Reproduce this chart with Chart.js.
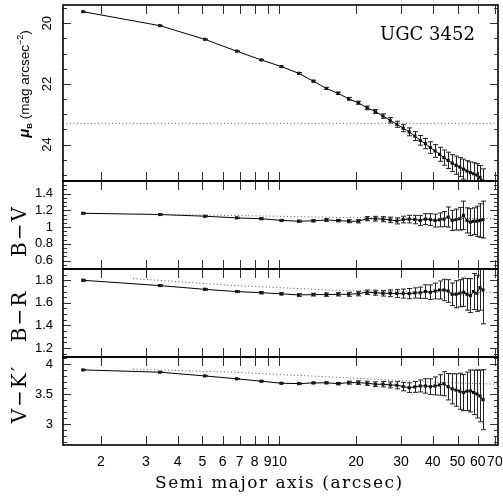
<!DOCTYPE html>
<html lang="en">
<head>
<meta charset="UTF-8">
<title>UGC 3452 profiles</title>
<script src="https://cdn.jsdelivr.net/npm/chart.js"></script>
<style>
  body { margin: 0; background: #fff; }
  #wrap { position: relative; width: 503px; height: 501px; overflow: hidden; }
  #wrap canvas { position: absolute; left: 0; top: 0; }
  .lbl { position: absolute; white-space: nowrap; color: #000; line-height: 1; }
  .rot { transform: translate(-50%, -50%) rotate(-90deg); }
  .serif { font-family: "DejaVu Serif", serif; }
  .sans { font-family: "Liberation Sans", Arial, sans-serif; }
</style>
</head>
<body>
<div id="wrap">
  <canvas id="pMu" width="503" height="501"></canvas>
  <canvas id="pBV" width="503" height="501"></canvas>
  <canvas id="pBR" width="503" height="501"></canvas>
  <canvas id="pVK" width="503" height="501"></canvas>

  <div class="lbl serif" style="left:380px; top:25px; font-size:18px;">UGC 3452</div>
  <div class="lbl sans rot" style="left:25px; top:84px; font-size:13.5px;"><b><i style="font-size:15px">μ</i></b><sub style="font-size:8px;font-weight:bold">B</sub> (mag arcsec<sup style="font-size:9px">−2</sup>)</div>
  <div class="lbl serif rot" style="left:19px; top:231px; font-size:20px; letter-spacing:2px;">B−V</div>
  <div class="lbl serif rot" style="left:19px; top:316px; font-size:20px; letter-spacing:2px;">B−R</div>
  <div class="lbl serif rot" style="left:19px; top:394px; font-size:20px; letter-spacing:2px;">V−K′</div>
  <div class="lbl serif" style="left:155px; top:474px; font-size:17px; letter-spacing:1.5px;">Semi major axis (arcsec)</div>
</div>

<script>
// radii of the isophotes (arcsec)
const radius = [1.7, 3.4, 5.1, 6.8, 8.5, 10.2, 11.9, 13.6, 15.3, 17.0, 18.7, 20.4, 22.1, 23.8, 25.5, 27.2, 28.9, 30.6, 32.3, 34.0,
                35.7, 37.4, 39.1, 40.8, 42.5, 44.2, 45.9, 47.6, 49.3, 51.0, 52.7, 54.4, 56.1, 57.8, 59.5, 61.2, 62.9];

// surface brightness in B
const muB = [19.62, 20.08, 20.53, 20.92, 21.21, 21.43, 21.65, 21.91, 22.15, 22.31, 22.49, 22.62, 22.79, 22.91, 23.06, 23.20, 23.33, 23.46, 23.58, 23.72,
             23.86, 23.97, 24.10, 24.21, 24.32, 24.43, 24.52, 24.61, 24.68, 24.74, 24.81, 24.87, 24.92, 24.96, 25.00, 25.08, 25.20];
const muBErr = [0.01, 0.01, 0.01, 0.01, 0.015, 0.02, 0.025, 0.03, 0.035, 0.04, 0.045, 0.05, 0.06, 0.065, 0.075, 0.09, 0.10, 0.115, 0.13, 0.145,
                0.16, 0.17, 0.19, 0.21, 0.23, 0.25, 0.27, 0.28, 0.30, 0.31, 0.33, 0.34, 0.35, 0.36, 0.37, 0.39, 0.40];

// colours
const bv = [1.165, 1.15, 1.13, 1.11, 1.10, 1.08, 1.07, 1.075, 1.085, 1.078, 1.07, 1.07, 1.10, 1.10, 1.095, 1.086, 1.074, 1.09, 1.095, 1.09,
            1.08, 1.095, 1.09, 1.078, 1.086, 1.095, 1.12, 1.08, 1.09, 1.10, 1.14, 1.08, 1.06, 1.07, 1.07, 1.078, 1.09];
const bvErr = [0.008, 0.008, 0.008, 0.008, 0.01, 0.01, 0.012, 0.012, 0.015, 0.015, 0.018, 0.02, 0.025, 0.028, 0.03, 0.033, 0.036, 0.04, 0.045, 0.05,
               0.06, 0.065, 0.07, 0.077, 0.083, 0.09, 0.12, 0.12, 0.125, 0.135, 0.17, 0.15, 0.16, 0.16, 0.18, 0.20, 0.22];

const br = [1.80, 1.753, 1.72, 1.70, 1.69, 1.68, 1.67, 1.673, 1.673, 1.676, 1.676, 1.682, 1.694, 1.69, 1.685, 1.685, 1.682, 1.682, 1.682, 1.688,
            1.69, 1.70, 1.694, 1.705, 1.714, 1.714, 1.705, 1.676, 1.676, 1.685, 1.694, 1.676, 1.664, 1.70, 1.685, 1.735, 1.714];
const brErr = [0.008, 0.008, 0.008, 0.008, 0.01, 0.01, 0.012, 0.012, 0.015, 0.015, 0.018, 0.02, 0.02, 0.022, 0.025, 0.03, 0.035, 0.04, 0.045, 0.045,
               0.05, 0.06, 0.065, 0.07, 0.08, 0.095, 0.10, 0.10, 0.12, 0.12, 0.125, 0.14, 0.15, 0.16, 0.16, 0.20, 0.30];

const vk = [3.905, 3.867, 3.805, 3.757, 3.717, 3.683, 3.677, 3.688, 3.69, 3.677, 3.693, 3.693, 3.683, 3.667, 3.667, 3.655, 3.65, 3.627, 3.61, 3.622,
            3.638, 3.638, 3.627, 3.638, 3.655, 3.675, 3.625, 3.59, 3.57, 3.55, 3.527, 3.55, 3.555, 3.53, 3.505, 3.472, 3.41];
const vkErr = [0.008, 0.008, 0.008, 0.008, 0.01, 0.01, 0.012, 0.012, 0.015, 0.02, 0.025, 0.03, 0.035, 0.04, 0.045, 0.05, 0.06, 0.07, 0.08, 0.09,
               0.10, 0.12, 0.13, 0.15, 0.17, 0.20, 0.22, 0.25, 0.27, 0.30, 0.30, 0.32, 0.35, 0.37, 0.40, 0.43, 0.50];

// dotted reference curves
const refX = [2.67, 6.4, 17.3, 40, 72];
const bvRef = [1.155, 1.14, 1.115, 1.105, 1.10];
const brRef = [1.815, 1.756, 1.709, 1.695, 1.69];
const vkRef = [3.917, 3.87, 3.78, 3.70, 3.667];
const muLimX = [1.42, 72];
const muLim = [23.3, 23.3];

// tick labels
const xTicks = [2, 3, 4, 5, 6, 7, 8, 9, 10, 20, 30, 40, 50, 60, 70];
const muTicks = [20, 22, 24];
const bvTicks = [0.6, 0.8, 1, 1.2, 1.4];
const brTicks = [1.2, 1.4, 1.6, 1.8];
const vkTicks = [3, 3.5, 4];

Chart.defaults.font.family = '"Liberation Sans", Arial, sans-serif';
Chart.defaults.color = '#000';

const xy = (xs, ys) => xs.map((v, i) => ({ x: v, y: ys[i] }));

// error bars, inward ticks and frame
const panelDecor = {
  id: 'panelDecor',
  afterDatasetsDraw(chart, args, opts) {
    const { ctx, chartArea: a, scales: { x, y } } = chart;
    ctx.save();
    ctx.beginPath();
    ctx.rect(a.left, a.top, a.right - a.left, a.bottom - a.top);
    ctx.clip();
    ctx.strokeStyle = '#222';
    ctx.lineWidth = 1;
    chart.data.datasets.forEach(ds => {
      if (!ds.errors) return;
      ds.data.forEach((p, i) => {
        const e = ds.errors[i];
        const px = Math.round(x.getPixelForValue(p.x)) + 0.5;
        const y1 = y.getPixelForValue(p.y - e), y2 = y.getPixelForValue(p.y + e);
        ctx.beginPath();
        ctx.moveTo(px, y1); ctx.lineTo(px, y2);
        ctx.moveTo(px - 2.5, y1); ctx.lineTo(px + 2.5, y1);
        ctx.moveTo(px - 2.5, y2); ctx.lineTo(px + 2.5, y2);
        ctx.stroke();
      });
    });
    ctx.restore();

    ctx.save();
    ctx.strokeStyle = '#333';
    ctx.lineWidth = 1;
    ctx.beginPath();
    xTicks.forEach(v => {
      const px = Math.round(x.getPixelForValue(v)) + 0.5;
      ctx.moveTo(px, a.top); ctx.lineTo(px, a.top + 9);
      ctx.moveTo(px, a.bottom); ctx.lineTo(px, a.bottom - 9);
    });
    const lo = Math.min(y.min, y.max), hi = Math.max(y.min, y.max);
    for (let k = Math.ceil(lo / opts.minor - 1e-6); k * opts.minor <= hi + 1e-6; k++) {
      const v = k * opts.minor;
      const r = v / opts.major;
      const len = Math.abs(r - Math.round(r)) < 1e-6 ? 8 : 4;
      const py = Math.round(y.getPixelForValue(v)) + 0.5;
      ctx.moveTo(a.left, py); ctx.lineTo(a.left + len, py);
      ctx.moveTo(a.right, py); ctx.lineTo(a.right - len, py);
    }
    ctx.stroke();
    ctx.strokeStyle = '#000';
    ctx.lineWidth = 1.6;
    ctx.strokeRect(a.left, a.top, a.right - a.left, a.bottom - a.top);
    ctx.restore();
  }
};

function panel(id, o) {
  return new Chart(document.getElementById(id), {
    type: 'line',
    data: {
      datasets: [
        { data: o.ref, borderColor: '#555', borderWidth: 1, borderDash: [1, 2.5], pointRadius: 0, fill: false },
        { data: o.pts, errors: o.err, borderColor: '#000', borderWidth: 1, pointStyle: 'rect', pointRadius: 2.2,
          pointBackgroundColor: '#000', pointBorderWidth: 0, fill: false }
      ]
    },
    options: {
      responsive: false,
      animation: false,
      events: [],
      layout: { autoPadding: false, padding: { left: 0, right: 5, top: o.top, bottom: o.bottom } },
      plugins: {
        legend: { display: false },
        tooltip: { enabled: false },
        panelDecor: { minor: o.minor, major: o.major }
      },
      scales: {
        x: {
          type: 'logarithmic', min: 1.42, max: 72,
          afterBuildTicks: s => { s.ticks = xTicks.map(v => ({ value: v })); },
          afterFit: s => { s.height = o.xLabels ? 30 : 0; s.paddingLeft = 0; s.paddingRight = 0; },
          grid: { display: false, drawTicks: false },
          border: { display: false },
          ticks: { display: !!o.xLabels, autoSkip: false, maxRotation: 0, minRotation: 0, padding: 9,
                   font: { size: 14 }, callback: v => String(v) }
        },
        y: {
          type: 'linear', min: o.min, max: o.max, reverse: !!o.reverse,
          afterBuildTicks: s => { s.ticks = o.labels.map(v => ({ value: v })); },
          afterFit: s => { s.width = 63; s.paddingTop = 0; s.paddingBottom = 0; },
          grid: { display: false, drawTicks: false },
          border: { display: false },
          ticks: Object.assign({ font: { size: 13 }, padding: 10, callback: v => String(+(+v).toFixed(2)) }, o.yTicks || {})
        }
      }
    },
    plugins: [panelDecor]
  });
}

panel('pMu', {
  pts: xy(radius, muB), err: muBErr, ref: xy(muLimX, muLim),
  min: 19.4, max: 25.2, reverse: true, labels: muTicks, minor: 0.5, major: 2,
  top: 5, bottom: 501 - 181,
  yTicks: { minRotation: 90, maxRotation: 90, crossAlign: 'center', padding: 8 }
});
panel('pBV', {
  pts: xy(radius, bv), err: bvErr, ref: xy(refX, bvRef),
  min: 0.5, max: 1.55, labels: bvTicks, minor: 0.05, major: 0.2,
  top: 181, bottom: 501 - 269
});
panel('pBR', {
  pts: xy(radius, br), err: brErr, ref: xy(refX, brRef),
  min: 1.12, max: 1.9, labels: brTicks, minor: 0.05, major: 0.2,
  top: 269, bottom: 501 - 357
});
panel('pVK', {
  pts: xy(radius, vk), err: vkErr, ref: xy(refX, vkRef),
  min: 2.655, max: 4.12, labels: vkTicks, minor: 0.1, major: 0.5,
  top: 357, bottom: 501 - 445 - 30, xLabels: true
});
</script>
</body>
</html>
